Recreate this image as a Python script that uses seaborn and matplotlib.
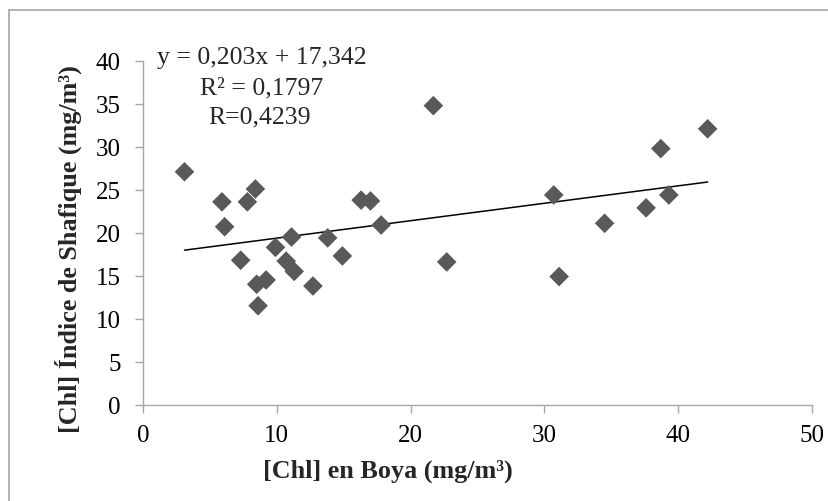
import matplotlib.pyplot as plt
import matplotlib.lines as mlines
import pandas as pd
import seaborn as sns

# Values
chl_boya = [3.1, 5.9, 6.1, 7.3, 7.8, 8.4, 8.5, 8.6, 9.2, 9.9, 10.7, 11.1, 11.3,
            12.7, 13.8, 14.9, 16.3, 17.0, 17.8, 21.7, 22.7, 30.7, 31.1, 34.5,
            37.6, 38.7, 39.3, 42.2]
chl_shafique = [27.1, 23.6, 20.7, 16.8, 23.6, 25.1, 14.0, 11.5, 14.5, 18.3, 16.7,
                19.5, 15.5, 13.8, 19.4, 17.3, 23.8, 23.7, 20.9, 34.8, 16.6, 24.4,
                14.9, 21.1, 22.9, 29.8, 24.4, 32.1]
slope = 0.203
intercept = 17.342
eq_text = "y = 0,203x + 17,342"
r2_text = "R² = 0,1797"
r_text = "R=0,4239"
x_ticks = [0, 10, 20, 30, 40, 50]
y_ticks = [0, 5, 10, 15, 20, 25, 30, 35, 40]

df = pd.DataFrame({"boya": chl_boya, "shafique": chl_shafique})

sns.set_style("white")
plt.rcParams["font.family"] = ["Liberation Serif", "DejaVu Serif"]

W, H = 829, 502
fig = plt.figure(figsize=(W / 100, H / 100), dpi=100)
ax = fig.add_axes([143 / W, 1 - 405.5 / H, (812 - 143) / W, (405.5 - 62) / H])

grey = "#a6a6a6"
sns.scatterplot(data=df, x="boya", y="shafique", marker="D", s=100,
                color="#595959", edgecolor="none", ax=ax, zorder=3)

# linear trend line from the reported equation
x0, x1 = min(chl_boya), max(chl_boya)
ax.plot([x0, x1], [slope * x0 + intercept, slope * x1 + intercept],
        color="black", lw=1.1, zorder=2)

ax.set_xlim(0, 50)
ax.set_ylim(0, 40)
ax.set_xticks(x_ticks)
ax.set_yticks(y_ticks)
ax.tick_params(axis="both", direction="out", length=6, width=1, color=grey,
               labelsize=18, labelcolor="black", left=True, bottom=True)
ax.tick_params(axis="y", pad=10)
ax.tick_params(axis="x", pad=8)
for side in ["top", "right"]:
    ax.spines[side].set_visible(False)
for side in ["left", "bottom"]:
    ax.spines[side].set_color(grey)
    ax.spines[side].set_linewidth(1)
ax.set_xlabel("")
ax.set_ylabel("")

# axis titles
fig.text(388 / W, 1 - 471 / H, "[Chl] en Boya (mg/m³)", ha="center", va="center",
         fontsize=18.8, fontweight="bold")
fig.text(68 / W, 1 - 249 / H, "[Chl] Índice de Shafique (mg/m³)", ha="center",
         va="center", rotation=90, fontsize=18.8, fontweight="bold")

# equation text block
fig.text(262 / W, 1 - 64 / H, eq_text, ha="center", va="baseline", fontsize=18.5)
fig.text(262 / W, 1 - 94.5 / H, r2_text, ha="center", va="baseline", fontsize=18.5)
fig.text(260 / W, 1 - 123 / H, r_text, ha="center", va="baseline", fontsize=18.5)

# chart frame (only left and top edges fall inside the picture)
fig.add_artist(mlines.Line2D([9.5 / W, 9.5 / W], [0, 1 - 11 / H],
                             transform=fig.transFigure, color=grey, lw=1.2))
fig.add_artist(mlines.Line2D([9.5 / W, 1], [1 - 11 / H, 1 - 11 / H],
                             transform=fig.transFigure, color=grey, lw=1.2))

fig.savefig("out.png", dpi=100)
